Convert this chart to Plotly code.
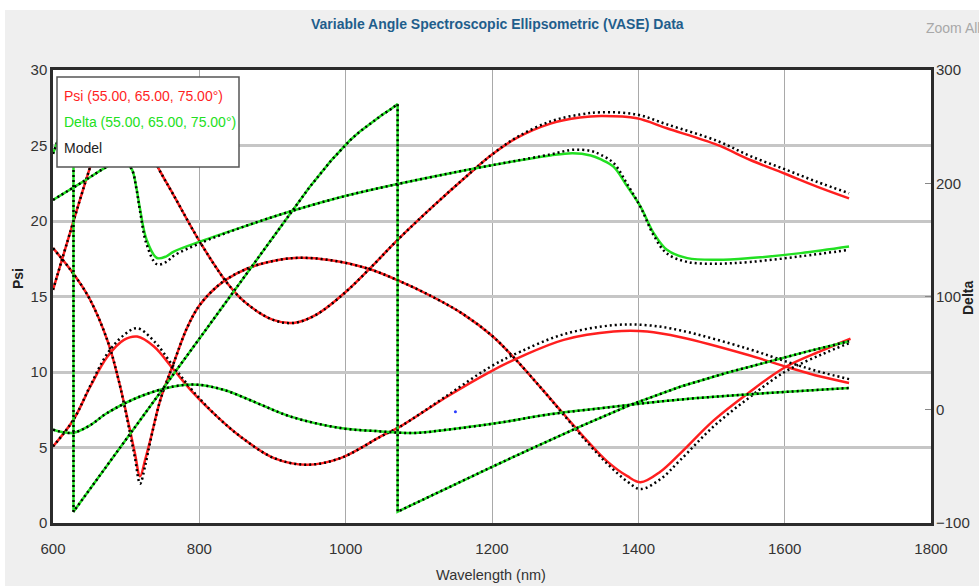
import plotly.graph_objects as go

# ---- measured Psi (deg) for the three incidence angles ----
wl_psi_a = [600, 625, 650, 675, 690, 705, 712, 719, 726, 733, 747, 765, 783, 800, 825, 850, 880, 930, 980, 1030,
            1070, 1120, 1160, 1200, 1230, 1266, 1300, 1330, 1357, 1385, 1403, 1430, 1457, 1503, 1550, 1600, 1650, 1690]
psi_a = [18.2, 16.7, 14.85, 12.0, 9.4, 6.2, 4.6, 3.1, 4.2, 5.5, 8.2, 10.6, 12.9, 14.4, 15.7, 16.5, 17.1, 17.55, 17.4, 16.85,
         16.1, 14.95, 13.85, 12.4, 10.95, 9.0, 7.1, 5.45, 4.1, 3.1, 2.7, 3.4, 4.6, 6.8, 8.6, 10.3, 11.4, 12.2]
psi_a_model = [18.2, 16.7, 14.85, 12.0, 9.4, 6.0, 4.3, 2.6, 3.8, 5.4, 8.2, 10.6, 12.9, 14.4, 15.7, 16.5, 17.1, 17.55, 17.4, 16.85,
               16.1, 14.95, 13.85, 12.4, 10.95, 9.0, 7.05, 5.35, 3.95, 2.75, 2.25, 2.9, 4.15, 6.4, 8.25, 10.0, 11.15, 11.95]

wl_psi_b = [600, 628, 651, 674, 697, 715, 738, 765, 792, 824, 856, 902, 947, 993, 1048, 1075, 1139, 1198, 1239, 1298,
            1366, 1412, 1458, 1549, 1608, 1649, 1688]
psi_b = [5.07, 6.84, 9.04, 11.0, 12.13, 12.35, 11.69, 10.15, 8.6, 7.06, 5.73, 4.3, 3.86, 4.3, 5.73, 6.4, 8.38, 10.03, 11.0, 12.13,
         12.68, 12.68, 12.3, 11.14, 10.26, 9.7, 9.27]
psi_b_model = [5.07, 6.84, 9.1, 11.2, 12.45, 12.9, 12.05, 10.35, 8.7, 7.06, 5.73, 4.3, 3.86, 4.3, 5.73, 6.4, 8.45, 10.35, 11.35, 12.5,
               13.1, 13.1, 12.75, 11.55, 10.6, 10.0, 9.53]

wl_psi_c = [600, 625, 651, 670, 685, 700, 715, 728, 743, 765, 801, 838, 864, 901, 929, 960, 1000, 1040, 1070, 1120,
            1166, 1200, 1234, 1280, 1320, 1349, 1398, 1439, 1508, 1553, 1599, 1644, 1688]
psi_c = [15.44, 19.5, 23.6, 26.2, 27.2, 27.3, 26.5, 25.2, 23.6, 21.7, 18.6, 15.9, 14.56, 13.45, 13.25, 13.8, 15.3, 17.2, 18.7, 21.0,
         23.0, 24.4, 25.5, 26.45, 26.85, 26.95, 26.8, 26.14, 25.04, 24.04, 23.16, 22.28, 21.5]
psi_c_model = [15.44, 19.5, 23.6, 26.2, 27.2, 27.3, 26.5, 25.2, 23.6, 21.7, 18.6, 15.9, 14.56, 13.45, 13.25, 13.8, 15.3, 17.2, 18.7, 21.0,
               23.0, 24.4, 25.55, 26.6, 27.05, 27.2, 27.05, 26.4, 25.3, 24.3, 23.45, 22.6, 21.84]

# ---- measured Delta (deg); the first angle wraps from +270 to -90 ----
wl_delta_a = [600, 610, 620, 628, 628, 650, 700, 750, 800, 850, 900, 950, 980, 1006, 1020, 1034, 1050, 1062, 1071, 1071,
              1100, 1150, 1198, 1260, 1321, 1390, 1458, 1520, 1571, 1630, 1688]
delta_a = [226, 244, 258, 270, -90, -70.5, -26, 18, 62.5, 107, 151, 196, 220, 238, 246, 253, 260.5, 265.5, 270, -90,
           -81, -65.5, -51, -32.5, -14.7, 4.5, 20.5, 32.5, 41.5, 51.3, 60.5]
delta_a_model = list(delta_a)

wl_delta_b = [600, 615, 628, 650, 674, 719, 765, 797, 833, 879, 924, 993, 1048, 1093, 1139, 1207, 1275, 1366, 1420, 1480, 1571, 1688]
delta_b = [-17.6, -20.0, -20.3, -14.0, -2.9, 11.7, 20.6, 22.1, 17.6, 5.9, -5.9, -16.2, -19.1, -20.6, -17.6, -11.8, -4.4, 2.6, 6.6, 10.3, 14.5, 19.2]
delta_b_model = list(delta_b)

wl_delta_c = [600, 640, 674, 690, 700, 708, 714, 719, 728, 742, 755, 765, 801, 860, 924, 1006, 1143, 1280, 1310, 1335,
              1349, 1366, 1385, 1403, 1421, 1439, 1467, 1508, 1553, 1622, 1688]
delta_c = [185.3, 201, 214.7, 219, 218, 212, 196, 177, 150, 134, 135.5, 139.7, 148.5, 161.5, 175, 189.8, 208.9, 224.5, 226.5, 224.5,
           221, 214.7, 197, 179.4, 156, 141.2, 133.9, 132.4, 133.9, 138.3, 144.1]
delta_c_model = [185.3, 201, 214.7, 219, 218, 212, 195, 175, 146, 128.5, 130.5, 136, 147, 161.5, 175, 189.8, 208.9, 225.5, 229.5, 228.5,
                 225, 218, 199, 179, 154, 138, 130.5, 129, 130.5, 135.5, 141.2]

# single cursor marker
cursor_wl = [1150]
cursor_psi = [7.37]

x_ticks = [600, 800, 1000, 1200, 1400, 1600, 1800]
psi_ticks = [0, 5, 10, 15, 20, 25, 30]
delta_ticks = [-100, 0, 100, 200, 300]

legend_lines = ["Psi (55.00, 65.00, 75.00°)", "Delta (55.00, 65.00, 75.00°)", "Model"]

RED = "#ff1f1f"
GREEN = "#22e022"
SANS = "Liberation Sans, Arial, sans-serif"

W, H = 979, 586
PL, PR, PT, PB = 53, 931, 70, 523


def px_x(px):
    return (px - PL) / (PR - PL)


def px_y(py):
    return (PB - py) / (PB - PT)


fig = go.Figure()

psi_sets = [(wl_psi_a, psi_a, psi_a_model), (wl_psi_b, psi_b, psi_b_model), (wl_psi_c, psi_c, psi_c_model)]
delta_sets = [(wl_delta_a, delta_a, delta_a_model, "linear"),
              (wl_delta_b, delta_b, delta_b_model, "spline"),
              (wl_delta_c, delta_c, delta_c_model, "spline")]

for wl, d, _, shape in delta_sets:
    fig.add_trace(go.Scatter(x=wl, y=d, yaxis="y2", mode="lines",
                             line=dict(color=GREEN, width=2.5, shape=shape), showlegend=False))
for wl, p, _ in psi_sets:
    fig.add_trace(go.Scatter(x=wl, y=p, mode="lines",
                             line=dict(color=RED, width=2.5, shape="spline"), showlegend=False))
for wl, _, m, shape in delta_sets:
    fig.add_trace(go.Scatter(x=wl, y=m, yaxis="y2", mode="lines",
                             line=dict(color="black", width=2.5, dash="2px,3px", shape=shape), showlegend=False))
for wl, _, m in psi_sets:
    fig.add_trace(go.Scatter(x=wl, y=m, mode="lines",
                             line=dict(color="black", width=2.5, dash="2px,3px", shape="spline"), showlegend=False))

fig.add_trace(go.Scatter(x=cursor_wl, y=cursor_psi, mode="markers",
                         marker=dict(color="#2a3cff", size=3), showlegend=False))

tick_font = dict(family=SANS, size=15, color="#333333")

fig.update_layout(
    width=W, height=H,
    margin=dict(l=PL, r=W - PR, t=PT, b=H - PB, autoexpand=False),
    paper_bgcolor="#efefef",
    plot_bgcolor="white",
    title=dict(text="Variable Angle Spectroscopic Ellipsometric (VASE) Data",
               x=0.508, xref="container", xanchor="center",
               y=1 - 24 / H, yref="container", yanchor="middle",
               font=dict(family=SANS, size=14, color="#1f5e8c", weight="bold")),
    xaxis=dict(range=[600, 1800], tickvals=x_ticks, showgrid=True, gridcolor="#a9a9a9", gridwidth=1,
               zeroline=False, showline=True, mirror=True, linecolor="#2b2b2b", linewidth=2.5,
               ticks="", tickfont=tick_font, ticklabelstandoff=10, automargin=False),
    yaxis=dict(range=[0, 30], tickvals=psi_ticks, showgrid=True, gridcolor="#c6c6c6", gridwidth=2.5,
               zeroline=False, showline=True, mirror=True, linecolor="#2b2b2b", linewidth=2.5,
               ticks="", tickfont=tick_font, automargin=False),
    yaxis2=dict(range=[-100, 300], tickvals=delta_ticks, overlaying="y", side="right", showgrid=False,
                zeroline=False, showline=False, ticks="inside", ticklen=6, tickcolor="#888888",
                tickfont=tick_font, ticklabelstandoff=4, automargin=False),
)

# white strip above and left of the grey panel
fig.add_shape(type="rect", xref="paper", yref="paper", layer="below",
              x0=px_x(0), x1=px_x(W), y0=px_y(10), y1=px_y(0), fillcolor="white", line_width=0)
fig.add_shape(type="rect", xref="paper", yref="paper", layer="below",
              x0=px_x(0), x1=px_x(5), y0=px_y(H), y1=px_y(0), fillcolor="white", line_width=0)

# legend box
fig.add_shape(type="rect", xref="paper", yref="paper", layer="above",
              x0=px_x(57), x1=px_x(239), y0=px_y(167), y1=px_y(77),
              fillcolor="white", line=dict(color="#555555", width=1.5))
for text, color, py in zip(legend_lines, [RED, GREEN, "#222222"], [96, 122, 148]):
    fig.add_annotation(text=text, xref="paper", yref="paper", x=px_x(62), y=px_y(py),
                       xanchor="left", yanchor="middle", showarrow=False,
                       font=dict(family=SANS, size=14, color=color))

# axis titles
fig.add_annotation(text="<b>Psi</b>", xref="paper", yref="paper", x=px_x(18), y=px_y(279),
                   xanchor="center", yanchor="middle", textangle=-90, showarrow=False,
                   font=dict(family=SANS, size=14, color="#222222"))
fig.add_annotation(text="<b>Delta</b>", xref="paper", yref="paper", x=px_x(968), y=px_y(298),
                   xanchor="center", yanchor="middle", textangle=-90, showarrow=False,
                   font=dict(family=SANS, size=14, color="#222222"))
fig.add_annotation(text="Wavelength (nm)", xref="paper", yref="paper", x=px_x(491), y=px_y(575),
                   xanchor="center", yanchor="middle", showarrow=False,
                   font=dict(family=SANS, size=14.5, color="#333333"))
fig.add_annotation(text="Zoom All", xref="paper", yref="paper", x=px_x(982), y=px_y(28),
                   xanchor="right", yanchor="middle", showarrow=False,
                   font=dict(family=SANS, size=14, color="#a8a8a8"))

fig.write_html("out.html")
